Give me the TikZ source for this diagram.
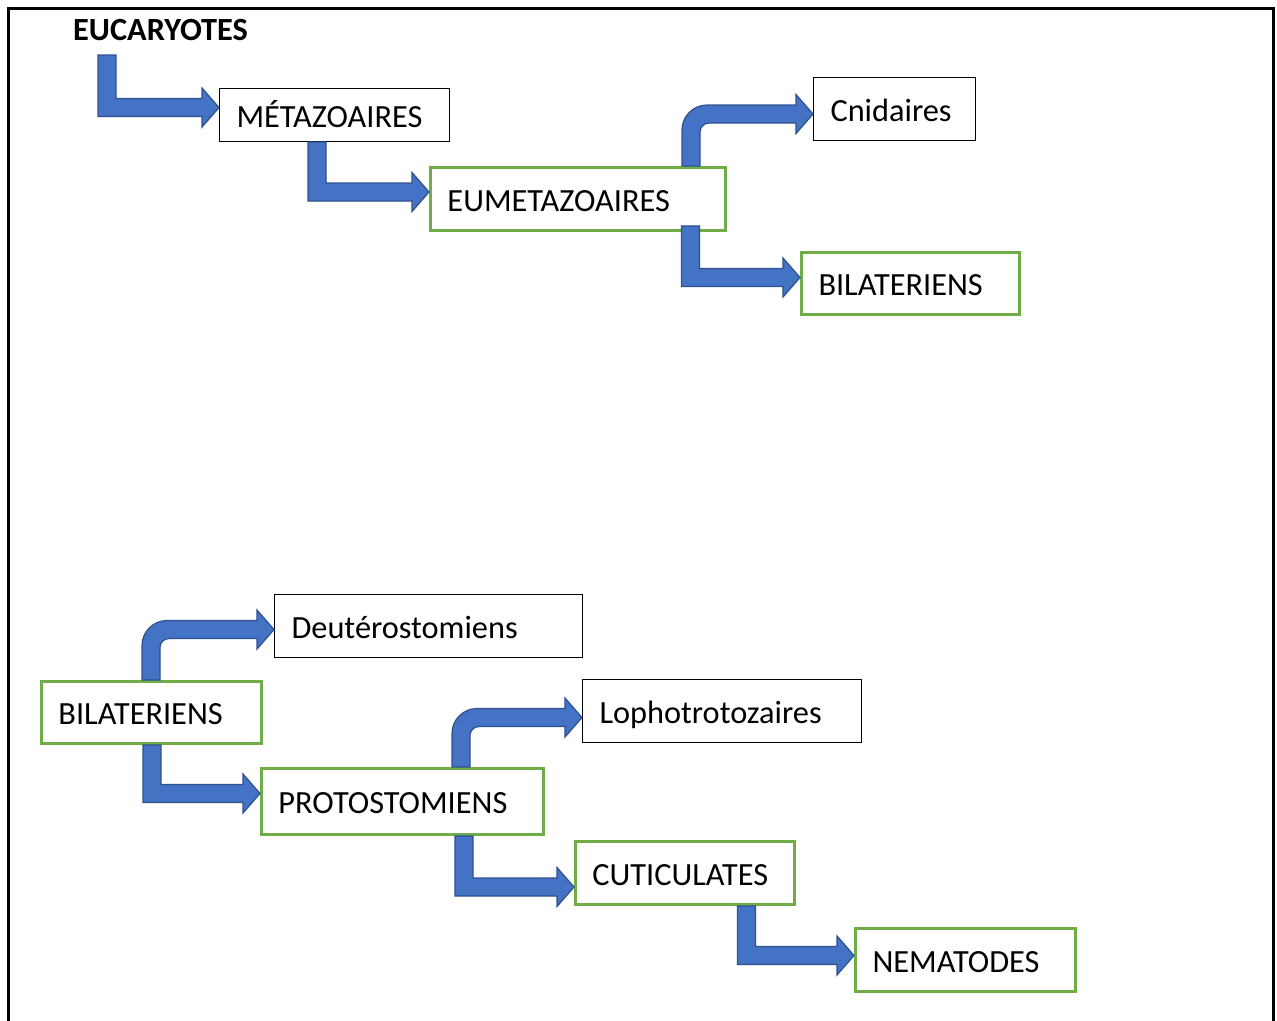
\documentclass[tikz,border=0pt]{standalone}
\usepackage{fontspec}
\setmainfont{Carlito}
\usetikzlibrary{calc}

\definecolor{flecheBleu}{HTML}{4472C4}
\definecolor{flecheBord}{HTML}{2F528F}
\definecolor{cadreVert}{HTML}{70AD47}

\tikzset{
	boite/.style={draw=black,line width=0.6pt,fill=white,anchor=north west,align=left,inner xsep=0.34cm,inner ysep=0pt,text height=0.48cm,text depth=0pt},
	boiteverte/.style={boite,draw=cadreVert,line width=1.7pt},
	fleche/.style={fill=flecheBleu,draw=flecheBord,line width=0.7pt,line join=miter}
}

% fleche coudee : descend puis part a droite
\newcommand{\flechebas}[2]{%
	\path (#1) coordinate (fs) (#2) coordinate (ft);
	\coordinate (fc) at (fs |- ft);
	\filldraw[fleche] ($(fs)+(-0.18,0)$) -- ($(fc)+(-0.18,-0.18)$) -- ($(ft)+(-0.34,-0.18)$) -- ($(ft)+(-0.34,-0.39)$) -- (ft)
		-- ($(ft)+(-0.34,0.39)$) -- ($(ft)+(-0.34,0.18)$) -- ($(fc)+(0.18,0.18)$) -- ($(fs)+(0.18,0)$) -- cycle;
}
% fleche arrondie : monte puis part a droite
\newcommand{\flechehaut}[2]{%
	\path (#1) coordinate (fs) (#2) coordinate (ft);
	\coordinate (fc) at (fs |- ft);
	\filldraw[fleche] ($(fs)+(-0.18,0)$) -- ($(fc)+(-0.18,-0.32)$) arc[start angle=180,end angle=90,radius=0.5]
		-- ($(ft)+(-0.34,0.18)$) -- ($(ft)+(-0.34,0.39)$) -- (ft) -- ($(ft)+(-0.34,-0.39)$) -- ($(ft)+(-0.34,-0.18)$)
		-- ($(fc)+(0.36,-0.18)$) arc[start angle=90,end angle=180,radius=0.18] -- ($(fs)+(0.18,0)$) -- cycle;
}

\begin{document}
\begin{tikzpicture}[font=\fontsize{18.4}{22}\selectfont]
	\clip (0,0) rectangle (25.54,-20.40);
	\fill[white] (0,0) rectangle (25.54,-20.40);
	\draw[line width=0.06cm] (0.18,-21) -- (0.18,-0.16) -- (25.46,-0.16) -- (25.46,-21);

	% premier arbre
	\node[anchor=base west,font=\fontsize{18.4}{22}\selectfont\bfseries] (euk) at (1.34,-0.80) {EUCARYOTES};
	\coordinate (depart) at (2.14,-1.10);
	\node[boite,text width=3.92cm,minimum height=1.06cm] (meta) at (4.38,-1.76) {MÉTAZOAIRES};
	\node[boiteverte,text width=5.22cm,minimum height=1.26cm] (eumeta) at (8.58,-3.32) {EUMETAZOAIRES};
	\node[boite,text width=2.56cm,minimum height=1.26cm] (cnid) at (16.26,-1.54) {Cnidaires};
	\node[boiteverte,text width=3.68cm,minimum height=1.24cm] (bilat) at (16.00,-5.02) {BILATERIENS};

	\flechebas{depart}{[yshift=0.15cm]meta.west}
	\flechebas{[xshift=1.96cm]meta.south west}{[yshift=0.14cm]eumeta.west}
	\flechehaut{[xshift=5.24cm]eumeta.north west}{[yshift=-0.10cm]cnid.west}
	\flechebas{[xshift=5.23cm,yshift=0.12cm]eumeta.south west}{[yshift=0.12cm]bilat.west}

	% second arbre
	\node[boite,text width=5.48cm,minimum height=1.26cm] (deut) at (5.48,-11.88) {Deutérostomiens};
	\node[boiteverte,text width=3.72cm,minimum height=1.24cm] (bilatb) at (0.80,-13.60) {BILATERIENS};
	\node[boite,text width=4.90cm,minimum height=1.26cm] (loph) at (11.64,-13.58) {Lophotrotozaires};
	\node[boiteverte,text width=4.96cm,minimum height=1.32cm] (proto) at (5.20,-15.34) {PROTOSTOMIENS};
	\node[boiteverte,text width=3.70cm,minimum height=1.26cm] (cutic) at (11.48,-16.80) {CUTICULATES};
	\node[boiteverte,text width=3.72cm,minimum height=1.26cm] (nemat) at (17.08,-18.54) {NEMATODES};

	\flechehaut{[xshift=2.22cm]bilatb.north west}{[yshift=-0.07cm]deut.west}
	\flechebas{[xshift=2.24cm]bilatb.south west}{[yshift=0.16cm]proto.west}
	\flechehaut{[xshift=4.02cm]proto.north west}{[yshift=-0.13cm]loph.west}
	\flechebas{[xshift=4.08cm]proto.south west}{[yshift=-0.28cm]cutic.west}
	\flechebas{[xshift=3.45cm]cutic.south west}{[yshift=0.09cm]nemat.west}
\end{tikzpicture}
\end{document}
